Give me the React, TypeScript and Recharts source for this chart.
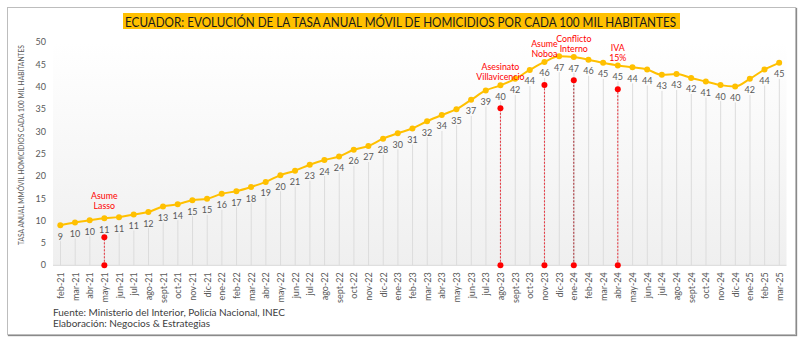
import React from 'react'
import {
  ComposedChart, Line, Bar, XAxis, YAxis, CartesianGrid, LabelList,
  ReferenceLine, ReferenceDot,
} from 'recharts'

const months = [
  'feb-21', 'mar-21', 'abr-21', 'may-21', 'jun-21', 'jul-21', 'ago-21', 'sept-21', 'oct-21', 'nov-21', 'dic-21',
  'ene-22', 'feb-22', 'mar-22', 'abr-22', 'may-22', 'jun-22', 'jul-22', 'ago-22', 'sept-22', 'oct-22', 'nov-22', 'dic-22',
  'ene-23', 'feb-23', 'mar-23', 'abr-23', 'may-23', 'jun-23', 'jul-23', 'ago-23', 'sept-23', 'oct-23', 'nov-23', 'dic-23',
  'ene-24', 'feb-24', 'mar-24', 'abr-24', 'may-24', 'jun-24', 'jul-24', 'ago-24', 'sept-24', 'oct-24', 'nov-24', 'dic-24',
  'ene-25', 'feb-25', 'mar-25',
]

// tasa anual móvil (valores aproximados)
const rates = [
  9.0, 9.6, 10.1, 10.55, 10.8, 11.4, 11.95, 13.2, 13.7, 14.6, 14.9,
  16.05, 16.6, 17.55, 18.7, 20.2, 21.2, 22.55, 23.6, 24.4, 25.9, 26.75, 28.4,
  29.6, 30.7, 32.3, 33.7, 35.0, 37.1, 39.2, 40.35, 41.8, 43.8, 45.6, 46.9,
  46.7, 46.1, 45.4, 44.8, 44.4, 43.9, 42.7, 42.9, 42.0, 41.2, 40.4, 40.1,
  41.8, 43.9, 45.4,
]

const yTicks = [0, 5, 10, 15, 20, 25, 30, 35, 40, 45, 50]

const eventMonths = ['may-21', 'ago-23', 'nov-23', 'ene-24', 'abr-24']
const eventLevels = [6.3, 35.2, 40.4, 41.5, 39.5]
const eventTexts = [
  ['Asume', 'Lasso'],
  ['Asesinato', 'Villavicencio'],
  ['Asume', 'Noboa'],
  ['Conflicto', 'Interno'],
  ['IVA', '15%'],
]

const TITLE = 'ECUADOR: EVOLUCIÓN DE LA TASA ANUAL MÓVIL DE HOMICIDIOS POR CADA 100 MIL HABITANTES'
const Y_LABEL = 'TASA ANUAL MMÓVIL HOMICIDIOS CADA 100 MIL HABITANTES'

const data = months.map((m, i) => ({ month: m, rate: rates[i] }))

const FONT = 'Lato, "DejaVu Sans", sans-serif'
const GRAY = '#595959'
const RED = '#ff0000'

const DropLine = (props: any) => {
  const { x, y, width, height } = props
  const h = height - 16
  if (h <= 0) return null
  return <rect x={x + width / 2 - 0.5} y={y + 16} width={1} height={h} fill="#dcdcdc" />
}

const XTick = ({ x, y, payload }: any) => (
  <text
    x={x} y={y}
    transform={`rotate(-90 ${x} ${y})`}
    textAnchor="end" dominantBaseline="central"
    fontSize={9} fill={GRAY} fontFamily={FONT}
  >{payload.value}</text>
)

const ValueLabel = ({ x, y, value }: any) => (
  <text
    x={x} y={y + 11}
    textAnchor="middle" dominantBaseline="central"
    fontSize={9} fill={GRAY} fontFamily={FONT}
  >{Math.round(value)}</text>
)

const eventShape = (lines: string[]) => (props: any) => {
  const { cx, cy } = props
  return (
    <g>
      <circle cx={cx} cy={cy} r={3} fill={RED} />
      <text x={cx} textAnchor="middle" fontSize={8.8} fill={RED} fontFamily={FONT}>
        <tspan x={cx} y={cy - 38}>{lines[0]}</tspan>
        <tspan x={cx} y={cy - 28}>{lines[1]}</tspan>
      </text>
    </g>
  )
}

export default function App() {
  return (
    <div style={{ position: 'absolute', left: 0, top: 0, width: 803, height: 340, background: '#fff', fontFamily: FONT }}>
      <div style={{
        position: 'absolute', left: 7, top: 7, width: 789, height: 328,
        border: '1px solid #bdbdbd', boxShadow: '1px 1px 1px #8a8a8a', boxSizing: 'border-box',
      }} />
      <svg width={803} height={340} style={{ position: 'absolute', left: 0, top: 0 }}>
        <rect x={123} y={13} width={557} height={16} fill="#ffc000" />
        <text
          x={125} y={21.5} dominantBaseline="central" fontSize={13} fill="#1a1a1a" fontFamily={FONT}
          textLength={551} lengthAdjust="spacingAndGlyphs"
        >{TITLE}</text>
        <text
          x={21} y={145} transform="rotate(-90 21 145)" textAnchor="middle" dominantBaseline="central"
          fontSize={8} fill={GRAY} fontFamily={FONT} textLength={200} lengthAdjust="spacingAndGlyphs"
        >{Y_LABEL}</text>
      </svg>
      <div style={{ position: 'absolute', left: 0, top: 0 }}>
        <ComposedChart
          width={803} height={340} data={data}
          margin={{ top: 42.3, right: 16.5, bottom: 34.7, left: 23 }}
          barCategoryGap={0}
        >
          <defs>
            <linearGradient id="plotBg" x1="0" y1="0" x2="0" y2="1">
              <stop offset="0%" stopColor="#ffffff" />
              <stop offset="100%" stopColor="#efefef" />
            </linearGradient>
          </defs>
          <CartesianGrid horizontal={false} vertical={false} fill="url(#plotBg)" />
          <XAxis
            dataKey="month" interval={0} height={40}
            tickLine={false} tickSize={0} tickMargin={7}
            axisLine={{ stroke: '#d9d9d9' }}
            tick={<XTick />}
          />
          <YAxis
            domain={[0, 50]} ticks={yTicks} width={30}
            axisLine={false} tickLine={false} tickSize={0} tickMargin={7}
            tick={{ fontSize: 9, fill: GRAY, fontFamily: FONT }}
          />
          <Bar dataKey="rate" shape={<DropLine />} isAnimationActive={false} />
          {eventMonths.map((m, i) => (
            <ReferenceLine
              key={`l-${m}`}
              segment={[{ x: m, y: 0 }, { x: m, y: eventLevels[i] }]}
              stroke={m === 'ene-24' ? '#a8282e' : '#e8323c'} strokeDasharray="2 1.5" strokeWidth={1}
            />
          ))}
          {eventMonths.map((m) => (
            <ReferenceDot key={`z-${m}`} x={m} y={0} r={3} fill={RED} stroke="none" />
          ))}
          <Line
            type="monotone" dataKey="rate" stroke="#ffc000" strokeWidth={2}
            dot={{ r: 3, fill: '#ffc000', stroke: '#ffc000', strokeWidth: 0 }}
            isAnimationActive={false}
          >
            <LabelList dataKey="rate" content={<ValueLabel />} />
          </Line>
          {eventMonths.map((m, i) => (
            <ReferenceDot key={`d-${m}`} x={m} y={eventLevels[i]} r={3} shape={eventShape(eventTexts[i])} />
          ))}
        </ComposedChart>
      </div>
      <div style={{ position: 'absolute', left: 53, top: 307, fontSize: 10, lineHeight: '10.5px', color: '#404040' }}>
        <div>Fuente: Ministerio del Interior, Policía Nacional, INEC</div>
        <div>Elaboración: Negocios &amp; Estrategias</div>
      </div>
    </div>
  )
}
